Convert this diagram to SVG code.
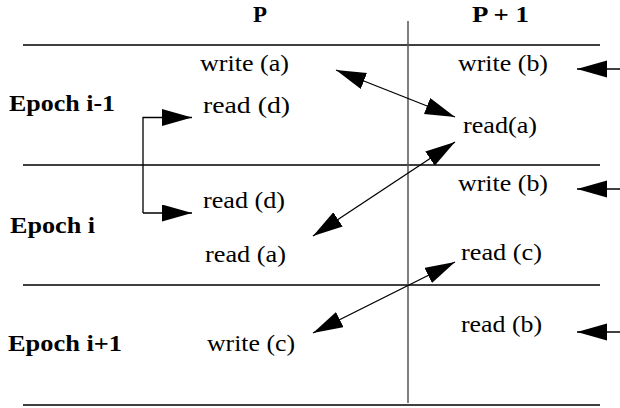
<svg xmlns="http://www.w3.org/2000/svg" width="620" height="408" viewBox="0 0 620 408">
<style>
.t{font-family:"Liberation Serif","Times New Roman",serif;font-size:24px;fill:#000}
.b{font-weight:bold}
.ln{stroke:#000;stroke-width:1.3;fill:none}
.vl{stroke:#555;stroke-width:1.5;fill:none}
.ar{stroke:#000;stroke-width:1.3;fill:none;marker-end:url(#ah)}
.da{stroke:#000;stroke-width:1.3;fill:none;marker-end:url(#ah);marker-start:url(#ah)}
</style>
<defs>
<marker id="ah" markerUnits="userSpaceOnUse" markerWidth="32" markerHeight="20" refX="30" refY="8.5" orient="auto-start-reverse">
<path d="M0,0 L30,8.5 L0,17 z" fill="#000"/>
</marker>
</defs>
<g id="grid">
<line class="ln" x1="23" y1="45" x2="600" y2="45"/>
<line class="ln" x1="23" y1="165" x2="600" y2="165"/>
<line class="ln" x1="23" y1="285" x2="600" y2="285"/>
<line class="ln" x1="23" y1="405" x2="600" y2="405"/>
<line class="vl" x1="408" y1="21" x2="408" y2="403"/>
</g>
<g id="headers">
<text class="t b" x="253" y="22" textLength="14" lengthAdjust="spacingAndGlyphs">P</text>
<text class="t b" x="472" y="22" textLength="57" lengthAdjust="spacingAndGlyphs">P + 1</text>
</g>
<g id="epochs">
<text class="t b" x="9" y="111" textLength="106" lengthAdjust="spacingAndGlyphs">Epoch i-1</text>
<text class="t b" x="10" y="233" textLength="85" lengthAdjust="spacingAndGlyphs">Epoch i</text>
<text class="t b" x="8" y="351" textLength="114" lengthAdjust="spacingAndGlyphs">Epoch i+1</text>
</g>
<g id="n-write-a"><text class="t" x="200" y="71" textLength="89" lengthAdjust="spacingAndGlyphs">write (a)</text></g>
<g id="n-read-d1"><text class="t" x="203" y="113" textLength="87" lengthAdjust="spacingAndGlyphs">read (d)</text></g>
<g id="n-read-d2"><text class="t" x="203" y="208" textLength="82" lengthAdjust="spacingAndGlyphs">read (d)</text></g>
<g id="n-read-a-p"><text class="t" x="205" y="262" textLength="81" lengthAdjust="spacingAndGlyphs">read (a)</text></g>
<g id="n-write-c"><text class="t" x="207" y="351" textLength="88" lengthAdjust="spacingAndGlyphs">write (c)</text></g>
<g id="n-write-b1"><text class="t" x="458" y="71" textLength="90" lengthAdjust="spacingAndGlyphs">write (b)</text></g>
<g id="n-read-a"><text class="t" x="463" y="133" textLength="74" lengthAdjust="spacingAndGlyphs">read(a)</text></g>
<g id="n-write-b2"><text class="t" x="458" y="191" textLength="90" lengthAdjust="spacingAndGlyphs">write (b)</text></g>
<g id="n-read-c"><text class="t" x="461" y="260" textLength="81" lengthAdjust="spacingAndGlyphs">read (c)</text></g>
<g id="n-read-b"><text class="t" x="461" y="332" textLength="81" lengthAdjust="spacingAndGlyphs">read (b)</text></g>
<g id="connectors">
<polyline class="ar" points="143,213 143,117.5 192,117.5"/>
<line class="ar" x1="143" y1="213" x2="192" y2="213"/>
<line class="da" x1="336" y1="70" x2="455" y2="117"/>
<line class="da" x1="313" y1="236" x2="455" y2="142"/>
<line class="da" x1="313" y1="333" x2="455" y2="262"/>
<line class="ar" x1="620" y1="69" x2="577" y2="69"/>
<line class="ar" x1="620" y1="189" x2="577" y2="189"/>
<line class="ar" x1="620" y1="332" x2="577" y2="332"/>
</g>
</svg>
